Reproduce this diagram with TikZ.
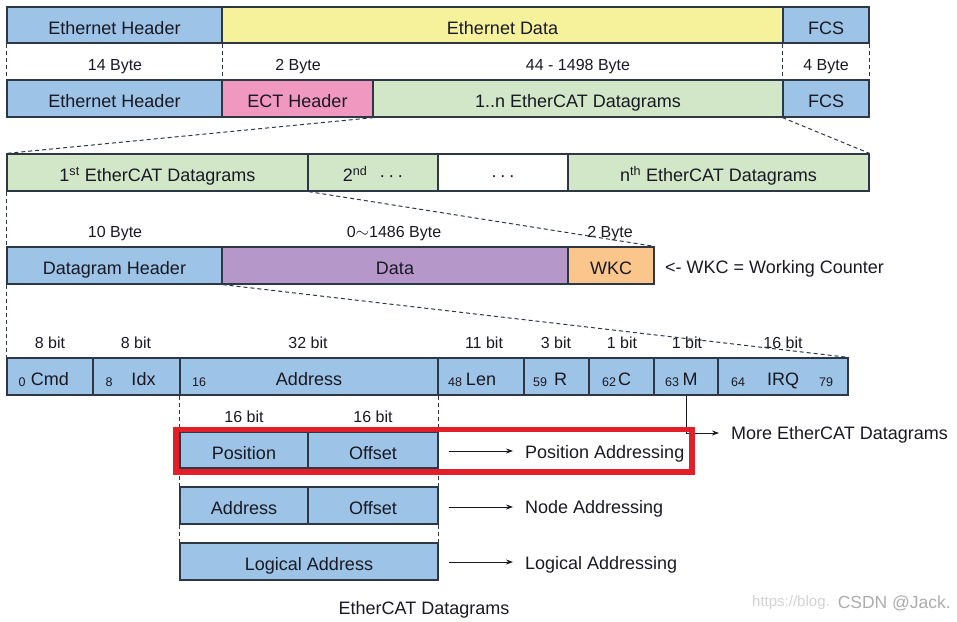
\documentclass[tikz,border=0pt]{standalone}
\usepackage{fontspec}
\setmainfont{Liberation Sans}
\usetikzlibrary{arrows.meta}
\definecolor{cblue}{RGB}{157,195,230}
\definecolor{cyellow}{RGB}{246,242,155}
\definecolor{cpink}{RGB}{240,152,192}
\definecolor{cgreen}{RGB}{209,231,200}
\definecolor{cpurple}{RGB}{181,152,201}
\definecolor{corange}{RGB}{250,198,140}
\definecolor{cline}{RGB}{45,55,70}
\definecolor{ctext}{RGB}{25,25,35}
\definecolor{cred}{RGB}{228,30,40}
\tikzset{
 cell/.style={draw=cline, line width=1.2pt, inner sep=0pt, text=ctext, text height=19pt, text depth=1pt, font=\fontsize{18}{20}\selectfont},
 lbl/.style={text=ctext, inner sep=0pt, text height=14pt, text depth=1pt, font=\fontsize{16}{18}\selectfont},
 big/.style={text=ctext, inner sep=0pt, text height=14pt, text depth=1pt, font=\fontsize{18}{20}\selectfont},
 sub/.style={text=ctext, inner sep=0pt, font=\fontsize{12.5}{13}\selectfont},
 guide/.style={draw=cline, line width=1pt, dash pattern=on 4pt off 3pt},
 pointer/.style={draw=ctext, line width=0.8pt, -{Stealth[length=7pt,width=5pt]}},
 wmark/.style={inner sep=0pt},
}
\newcommand\cellbox[7]{\node[cell,fill=#2,minimum width={(#5-#3)*1pt},minimum height={(#6-#4)*1pt}] (#1) at ({(#3+#5)/2},{(#4+#6)/2}) {#7};}
\begin{document}
\begin{tikzpicture}[x=1pt,y=-1pt]
\useasboundingbox (0,0) rectangle (957,621);
% Row 1
\cellbox{eh1}{cblue}{7}{7}{222}{43}{Ethernet Header}
\cellbox{ed}{cyellow}{222}{7}{783}{43}{Ethernet Data}
\cellbox{fcs1}{cblue}{783}{7}{869}{43}{FCS}
% Row 3
\cellbox{eh2}{cblue}{7}{80}{222}{117}{Ethernet Header}
\cellbox{ect}{cpink}{222}{80}{373}{117}{ECT Header}
\cellbox{dgs}{cgreen}{373}{80}{783}{117}{1..n EtherCAT Datagrams}
\cellbox{fcs2}{cblue}{783}{80}{869}{117}{FCS}
% byte sizes
\node[lbl] (b14) at (115,64) {14 Byte};
\node[lbl] (b2) at (298,64) {2 Byte};
\node[lbl] (b44) at (578,64) {44 - 1498 Byte};
\node[lbl] (b4) at (826,64) {4 Byte};
\draw[guide] (eh1.south west) -- (eh2.north west);
\draw[guide] (eh1.south east) -- (eh2.north east);
\draw[guide] (fcs1.south west) -- (fcs2.north west);
\draw[guide] (fcs1.south east) -- (fcs2.north east);
% Row 4
\cellbox{first}{cgreen}{7}{154}{308}{191}{1\textsuperscript{st} EtherCAT Datagrams}
\cellbox{second}{cgreen}{308}{154}{438}{191}{2\textsuperscript{nd}\hspace{12pt}·\hspace{3pt}·\hspace{3pt}·}
\cellbox{dots}{white}{438}{154}{568}{191}{·\hspace{3pt}·\hspace{3pt}·}
\cellbox{nth}{cgreen}{568}{154}{869}{191}{n\textsuperscript{th} EtherCAT Datagrams}
\draw[guide] (ect.south east) -- (first.north west);
\draw[guide] (fcs2.south west) -- (nth.north east);
% Row 5
\node[lbl] (b10) at (115,231) {10 Byte};
\node[lbl] (b1486) at (394,231) {0$\sim$1486 Byte};
\node[lbl] (b2b) at (610,231) {2 Byte};
\cellbox{dh}{cblue}{7}{247}{222}{284}{Datagram Header}
\cellbox{data}{cpurple}{222}{247}{568}{284}{Data}
\cellbox{wkc}{corange}{568}{247}{654}{284}{WKC}
\node[big,anchor=west] (wkcnote) at (665,267) {<- WKC = Working Counter};
\draw[guide] (first.south east) -- (wkc.north east);
\draw[guide] (first.south west) -- (dh.north west);
% Row 6
\node[lbl] (l8a) at (50,342) {8 bit};
\node[lbl] (l8b) at (136,342) {8 bit};
\node[lbl] (l32) at (308,342) {32 bit};
\node[lbl] (l11) at (484,342) {11 bit};
\node[lbl] (l3) at (556,342) {3 bit};
\node[lbl] (l1a) at (622,342) {1 bit};
\node[lbl] (l1b) at (687,342) {1 bit};
\node[lbl] (l16) at (783,342) {16 bit};
\cellbox{cmd}{cblue}{7}{358}{93}{395}{Cmd}
\cellbox{idx}{cblue}{93}{358}{180}{395}{\hspace*{14pt}Idx}
\cellbox{addr}{cblue}{180}{358}{438}{395}{Address}
\cellbox{len}{cblue}{438}{358}{524}{395}{Len}
\cellbox{rr}{cblue}{524}{358}{589}{395}{\hspace*{8pt}R}
\cellbox{cc}{cblue}{589}{358}{654}{395}{\hspace*{6pt}C}
\cellbox{mm}{cblue}{654}{358}{718}{395}{\hspace*{8pt}M}
\cellbox{irq}{cblue}{718}{358}{848}{395}{IRQ}
\node[sub] (s0) at (22,382) {0};
\node[sub] (s8) at (109,382) {8};
\node[sub] (s16) at (199,382) {16};
\node[sub] (s48) at (455,382) {48};
\node[sub] (s59) at (540,382) {59};
\node[sub] (s62) at (609,382) {62};
\node[sub] (s63) at (672,382) {63};
\node[sub] (s64) at (738,382) {64};
\node[sub] (s79) at (826,382) {79};
\draw[guide] (dh.south east) -- (irq.north east);
\draw[guide] (dh.south west) -- (cmd.north west);
% More datagrams
\node[big,anchor=west] (more) at (731,433) {More EtherCAT Datagrams};
\draw[pointer] (mm.south) |- ([xshift=-12pt]more.west);
% Address rows
\node[lbl] (p16a) at (244,416) {16 bit};
\node[lbl] (p16b) at (373,416) {16 bit};
\cellbox{pos}{cblue}{180}{432}{308}{468}{Position}
\cellbox{off1}{cblue}{308}{432}{438}{468}{Offset}
\cellbox{nadr}{cblue}{180}{487}{308}{524}{Address}
\cellbox{off2}{cblue}{308}{487}{438}{524}{Offset}
\cellbox{logic}{cblue}{180}{543}{438}{580}{Logical Address}
\draw[guide] (addr.south west) -- (pos.north west);
\draw[guide] (addr.south east) -- (off1.north east);
\draw[guide] (pos.south west) -- (nadr.north west);
\draw[guide] (off1.south east) -- (off2.north east);
\draw[guide] (nadr.south west) -- (logic.north west);
\draw[guide] (off2.south east) -- (logic.north east);
\node[big,anchor=west] (tpos) at (525,452) {Position Addressing};
\node[big,anchor=west] (tnode) at (525,507) {Node Addressing};
\node[big,anchor=west] (tlog) at (525,563) {Logical Addressing};
\coordinate (a1) at (449,451);
\coordinate (a2) at (449,507);
\coordinate (a3) at (449,562);
\draw[pointer, shorten >=12pt] (a1) -- (a1 -| tpos.west);
\draw[pointer, shorten >=12pt] (a2) -- (a2 -| tnode.west);
\draw[pointer, shorten >=12pt] (a3) -- (a3 -| tlog.west);
% highlight
\draw[cred, line width=5.5pt] (176,429.5) rectangle (692,472);
% caption
\node[big] (cap) at (424,608) {EtherCAT Datagrams};
\node[wmark, text=gray!35, anchor=west, font=\fontsize{15}{17}\selectfont] (wm1) at (752,603) {https://blog.};
\node[wmark, text=gray!65, anchor=east, font=\fontsize{17.5}{19}\selectfont] (wm2) at (951,603) {CSDN @Jack.};
\end{tikzpicture}
\end{document}
